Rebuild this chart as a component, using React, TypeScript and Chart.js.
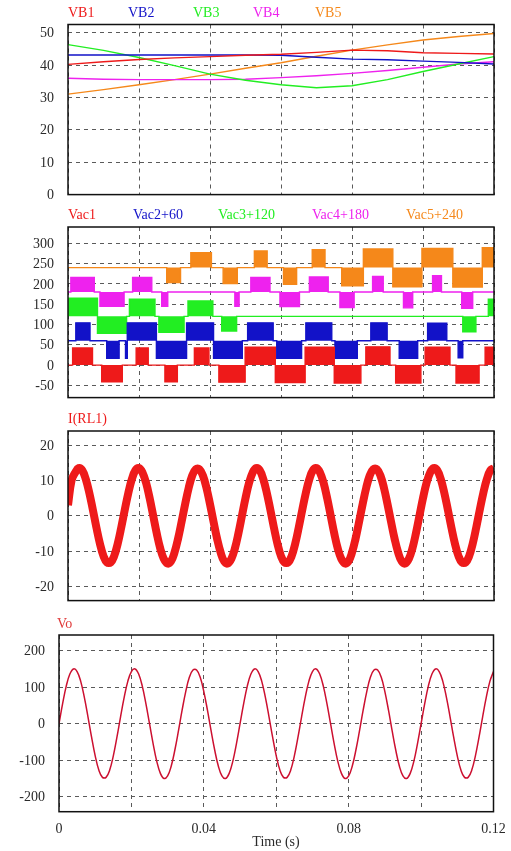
import React, { useEffect, useRef } from "react";
import { Chart, registerables } from "chart.js";

Chart.register(...registerables);

const PAGE_W = 511;
const PAGE_H = 851;
const T_MAX = 0.12;
const X_GRID_STEP = 0.02;
const X_TICK_LABELS = ["0", "0.04", "0.08", "0.12"];
const AXIS_TITLE = "Time (s)";

const RED = "#ee1a1a";
const BLUE = "#1212c8";
const GREEN = "#22ee22";
const MAGENTA = "#ee22ee";
const ORANGE = "#f5881a";
const VO_COLOR = "#cc1030";
const GRID = "#5a5a5a";
const TICK = "#2a2a2a";
const FONT = '"Liberation Serif", "Times New Roman", serif';

// ---- Panel 1: battery voltages ----
const VB_NAMES = ["VB1", "VB2", "VB3", "VB4", "VB5"];
const VB_TIMES = [0, 0.01, 0.02, 0.03, 0.04, 0.05, 0.06, 0.07, 0.08, 0.09, 0.1, 0.11, 0.12];
const VB1 = [40.2, 41.0, 41.7, 42.2, 42.6, 43.0, 43.3, 43.9, 44.6, 44.4, 43.8, 43.6, 43.4];
const VB2 = [43.1, 43.1, 43.1, 43.1, 43.1, 43.1, 43.0, 42.4, 41.8, 41.6, 41.2, 40.8, 40.3];
const VB3 = [46.3, 44.5, 42.3, 39.8, 37.2, 35.3, 33.9, 33.0, 33.6, 35.5, 38.0, 40.3, 42.6];
const VB4 = [35.9, 35.6, 35.5, 35.5, 35.5, 35.6, 36.1, 36.7, 37.4, 38.3, 39.3, 40.3, 41.0];
const VB5 = [31.0, 32.4, 33.9, 35.5, 37.2, 39.0, 40.7, 42.7, 44.6, 46.2, 47.7, 48.8, 49.7];

// ---- Panel 2: H-bridge outputs (stepped, value holds from its time to the next) ----
const VAC_NAMES = ["Vac1", "Vac2+60", "Vac3+120", "Vac4+180", "Vac5+240"];
const VAC_OFFSETS = [0, 60, 120, 180, 240];
const VAC1_T = [0, 0.0013, 0.0069, 0.0095, 0.0153, 0.0192, 0.0226, 0.0273, 0.0308, 0.0356, 0.0397, 0.0425, 0.0499, 0.0584, 0.0668, 0.075, 0.0825, 0.0839, 0.0907, 0.0923, 0.0994, 0.1006, 0.1076, 0.1093, 0.1158, 0.1175, 0.12];
const VAC1_V = [0, 42, 0, -41, 0, 42, 0, -41, 0, 42, 0, -42, 44, -43, 44, -44, 0, 45, 0, -44, 0, 44, 0, -44, 0, 44, 44];
const VAC2_T = [0, 0.0022, 0.0062, 0.0109, 0.0144, 0.0162, 0.0167, 0.0249, 0.0334, 0.041, 0.0491, 0.0506, 0.0578, 0.0588, 0.0658, 0.067, 0.0743, 0.0752, 0.0815, 0.0853, 0.0899, 0.0933, 0.0985, 0.1013, 0.1067, 0.1099, 0.1112, 0.12];
const VAC2_V = [0, 44, 0, -43, 0, -43, 44, -43, 44, -43, 0, 44, 0, -43, 0, 44, 0, -43, 0, 44, 0, -43, 0, 43, 0, -42, 0, 0];
const VAC3_T = [0, 0.0083, 0.0165, 0.0173, 0.0245, 0.0256, 0.0327, 0.0338, 0.0408, 0.0433, 0.0475, 0.1112, 0.1149, 0.1184, 0.12];
const VAC3_V = [45, -42, 0, 42, 0, -39, 0, 38, 0, -36, 0, -38, 0, 42, 42];
const VAC4_T = [0, 0.0008, 0.0074, 0.009, 0.0158, 0.0182, 0.0236, 0.0264, 0.0281, 0.047, 0.0482, 0.0515, 0.0569, 0.0597, 0.0652, 0.068, 0.0733, 0.0766, 0.0806, 0.0858, 0.0888, 0.0945, 0.0971, 0.1027, 0.1052, 0.1109, 0.114, 0.12];
const VAC4_V = [0, 36, 0, -35, 0, 36, 0, -35, 0, -35, 0, 36, 0, -36, 0, 37, 0, -38, 0, 38, 0, -39, 0, 40, 0, -40, 0, 0];
const VAC5_T = [0, 0.0278, 0.0317, 0.0346, 0.0404, 0.0437, 0.0477, 0.0525, 0.0561, 0.0607, 0.0644, 0.0688, 0.0724, 0.0771, 0.0832, 0.0915, 0.0997, 0.1084, 0.1167, 0.12];
const VAC5_V = [0, -37, 0, 37, 0, -39, 0, 41, 0, -41, 0, 44, 0, -45, 46, -47, 47, -48, 49, 49];

// ---- Panels 3 & 4: load current and output voltage, sampled every 1 ms ----
const SAMPLE_DT = 0.001;
const I_RL1 = [
  3, 10, 12.2, 13.5, 12.9, 10.4, 6.5, 1.7, -3.3, -7.9, -11.4, -13.2, -13.2, -11.4, -7.9, -3.3, 1.7, 6.5, 10.4, 12.9, 13.5, 12.2, 9.3, 5, 0, -5, -9.3, -12.2, -13.5, -12.9, -10.4, -6.5, -1.7, 3.3, 7.9, 11.4, 13.2, 13.2, 11.4, 7.9, 3.3, -1.7, -6.5, -10.4, -12.9, -13.5, -12.2, -9.3, -5, 0,
  5, 9.3, 12.2, 13.5, 12.9, 10.4, 6.5, 1.7, -3.3, -7.9, -11.4, -13.2, -13.2, -11.4, -7.9, -3.3, 1.7, 6.5, 10.4, 12.9, 13.5, 12.2, 9.3, 5, 0, -5, -9.3, -12.2, -13.5, -12.9, -10.4, -6.5, -1.7, 3.3, 7.9, 11.4, 13.2, 13.2, 11.4, 7.9, 3.3, -1.7, -6.5, -10.4, -12.9, -13.5, -12.2, -9.3, -5, 0,
  5, 9.3, 12.2, 13.5, 12.9, 10.4, 6.5, 1.7, -3.3, -7.9, -11.4, -13.2, -13.2, -11.4, -7.9, -3.3, 1.7, 6.5, 10.4, 12.9, 13.5,
];
const VO = [
  0, 55, 103, 136, 150, 143, 116, 72, 19, -37, -88, -127, -147, -147, -127, -88, -37, 19, 72, 116, 143, 150, 136, 103, 55, 0, -55, -103, -136, -150, -143, -116, -72, -19, 37, 88, 127, 147, 147, 127, 88, 37, -19, -72, -116, -143, -150, -136, -103, -55,
  0, 55, 103, 136, 150, 143, 116, 72, 19, -37, -88, -127, -147, -147, -127, -88, -37, 19, 72, 116, 143, 150, 136, 103, 55, 0, -55, -103, -136, -150, -143, -116, -72, -19, 37, 88, 127, 147, 147, 127, 88, 37, -19, -72, -116, -143, -150, -136, -103, -55,
  0, 55, 103, 136, 150, 143, 116, 72, 19, -37, -88, -127, -147, -147, -127, -88, -37, 19, 72, 116, 143,
];

type Label = { text: string; x: number; y: number; color: string; align?: CanvasTextAlign };
type PanelSpec = {
  key: string;
  areaTop: number;
  areaBottom: number;
  left: number;
  right: number;
  yMin: number;
  yMax: number;
  yStep: number;
  showX: boolean;
  datasets: any[];
  labels: Label[];
};

const pairs = (ts: number[], vs: number[], off = 0) => ts.map((t, i) => ({ x: t, y: vs[i] + off }));
const sampled = (vs: number[]) => vs.map((v, i) => ({ x: i * SAMPLE_DT, y: v }));

const VB_SERIES = [VB1, VB2, VB3, VB4, VB5];
const VB_COLORS = [RED, BLUE, GREEN, MAGENTA, ORANGE];
const VAC_T = [VAC1_T, VAC2_T, VAC3_T, VAC4_T, VAC5_T];
const VAC_V = [VAC1_V, VAC2_V, VAC3_V, VAC4_V, VAC5_V];

const line = (data: any[], color: string, width: number, extra: any = {}) => ({
  data,
  borderColor: color,
  backgroundColor: color,
  borderWidth: width,
  pointRadius: 0,
  fill: false,
  clip: 0,
  ...extra,
});

const PANELS: PanelSpec[] = [
  {
    key: "vb",
    areaTop: 24.5,
    areaBottom: 197,
    left: 68,
    right: 494,
    yMin: 0,
    yMax: 52.5,
    yStep: 10,
    showX: false,
    datasets: VB_SERIES.map((s, i) => line(pairs(VB_TIMES, s), VB_COLORS[i], 1.4)),
    labels: VB_NAMES.map((n, i) => ({ text: n, x: [68, 128, 193, 253, 315][i], y: 13, color: VB_COLORS[i] })),
  },
  {
    key: "vac",
    areaTop: 226.7,
    areaBottom: 399,
    left: 68,
    right: 494,
    yMin: -80,
    yMax: 340,
    yStep: 50,
    showX: false,
    datasets: VAC_T.map((ts, i) =>
      line(pairs(ts, VAC_V[i], VAC_OFFSETS[i]), VB_COLORS[i], 1.4, {
        stepped: true,
        fill: { value: VAC_OFFSETS[i] },
      })
    ),
    labels: VAC_NAMES.map((n, i) => ({ text: n, x: [68, 133, 218, 312, 406][i], y: 215, color: VB_COLORS[i] })),
  },
  {
    key: "irl",
    areaTop: 430.7,
    areaBottom: 602.3,
    left: 68,
    right: 494,
    yMin: -24,
    yMax: 24,
    yStep: 10,
    showX: false,
    datasets: [line(sampled(I_RL1), RED, 8, { tension: 0.4 })],
    labels: [{ text: "I(RL1)", x: 68, y: 419, color: RED }],
  },
  {
    key: "vo",
    areaTop: 635,
    areaBottom: 811.7,
    left: 59,
    right: 493.5,
    yMin: -241,
    yMax: 243,
    yStep: 100,
    showX: true,
    datasets: [line(sampled(VO), VO_COLOR, 1.5, { tension: 0.4 })],
    labels: [
      { text: "Vo", x: 57, y: 624, color: "#e03a3a" },
      { text: AXIS_TITLE, x: 276, y: 842, color: TICK, align: "center" },
    ],
  },
];

function geometry(p: PanelSpec) {
  const canvasTop = Math.max(0, p.areaTop - 30);
  const padTop = p.areaTop - canvasTop;
  const xHeight = p.showX ? PAGE_H - p.areaBottom : 0;
  const padBottom = p.showX ? 0 : 20;
  const height = Math.ceil(padTop + (p.areaBottom - p.areaTop) + xHeight + padBottom);
  return { canvasTop, padTop, xHeight, padBottom, height };
}

function PanelChart({ p }: { p: PanelSpec }) {
  const ref = useRef<HTMLCanvasElement>(null);
  const g = geometry(p);
  useEffect(() => {
    if (!ref.current) return;
    const framePlugin = {
      id: "frame_" + p.key,
      afterDraw(chart: any) {
        const { ctx, chartArea: a } = chart;
        ctx.save();
        ctx.strokeStyle = "#111";
        ctx.lineWidth = 1.5;
        ctx.strokeRect(a.left, a.top, a.right - a.left, a.bottom - a.top);
        ctx.font = `14px ${FONT}`;
        ctx.textBaseline = "middle";
        p.labels.forEach((l) => {
          ctx.fillStyle = l.color;
          ctx.textAlign = l.align || "left";
          ctx.fillText(l.text, l.x, l.y - g.canvasTop);
        });
        ctx.restore();
      },
    };
    const chart = new Chart(ref.current, {
      type: "line",
      data: { datasets: p.datasets },
      options: {
        responsive: false,
        maintainAspectRatio: false,
        animation: false,
        devicePixelRatio: 1,
        layout: { padding: { top: g.padTop, bottom: g.padBottom, left: 0, right: PAGE_W - p.right } },
        plugins: { legend: { display: false }, tooltip: { enabled: false }, title: { display: false } },
        elements: { point: { radius: 0 } },
        scales: {
          x: {
            type: "linear",
            min: 0,
            max: T_MAX,
            grid: { color: GRID, lineWidth: 1, drawTicks: false },
            border: { display: false, dash: [4, 4] },
            ticks: {
              display: p.showX,
              stepSize: X_GRID_STEP,
              autoSkip: false,
              maxRotation: 0,
              includeBounds: false,
              padding: 9,
              color: TICK,
              font: { family: FONT, size: 14 },
              callback: (v: any) => {
                const s = String(Math.round(Number(v) * 100) / 100);
                return X_TICK_LABELS.includes(s) ? s : "";
              },
            },
            afterFit: (s: any) => {
              s.height = g.xHeight;
              s.paddingLeft = 0;
              s.paddingRight = 0;
            },
          },
          y: {
            type: "linear",
            min: p.yMin,
            max: p.yMax,
            grid: { color: GRID, lineWidth: 1, drawTicks: false },
            border: { display: false, dash: [4, 4] },
            ticks: {
              stepSize: p.yStep,
              includeBounds: false,
              padding: 14,
              color: TICK,
              labelOffset: 1,
              font: { family: FONT, size: 14 },
            },
            afterFit: (s: any) => {
              s.width = p.left;
            },
          },
        },
      } as any,
      plugins: [framePlugin],
    });
    return () => chart.destroy();
  }, []);
  return (
    <canvas
      ref={ref}
      width={PAGE_W}
      height={g.height}
      style={{ position: "absolute", left: 0, top: g.canvasTop, width: PAGE_W, height: g.height, display: "block" }}
    />
  );
}

export default function App() {
  return (
    <div style={{ position: "fixed", left: 0, top: 0, width: PAGE_W, height: PAGE_H, background: "#fff", overflow: "hidden" }}>
      {PANELS.map((p) => (
        <PanelChart key={p.key} p={p} />
      ))}
    </div>
  );
}
